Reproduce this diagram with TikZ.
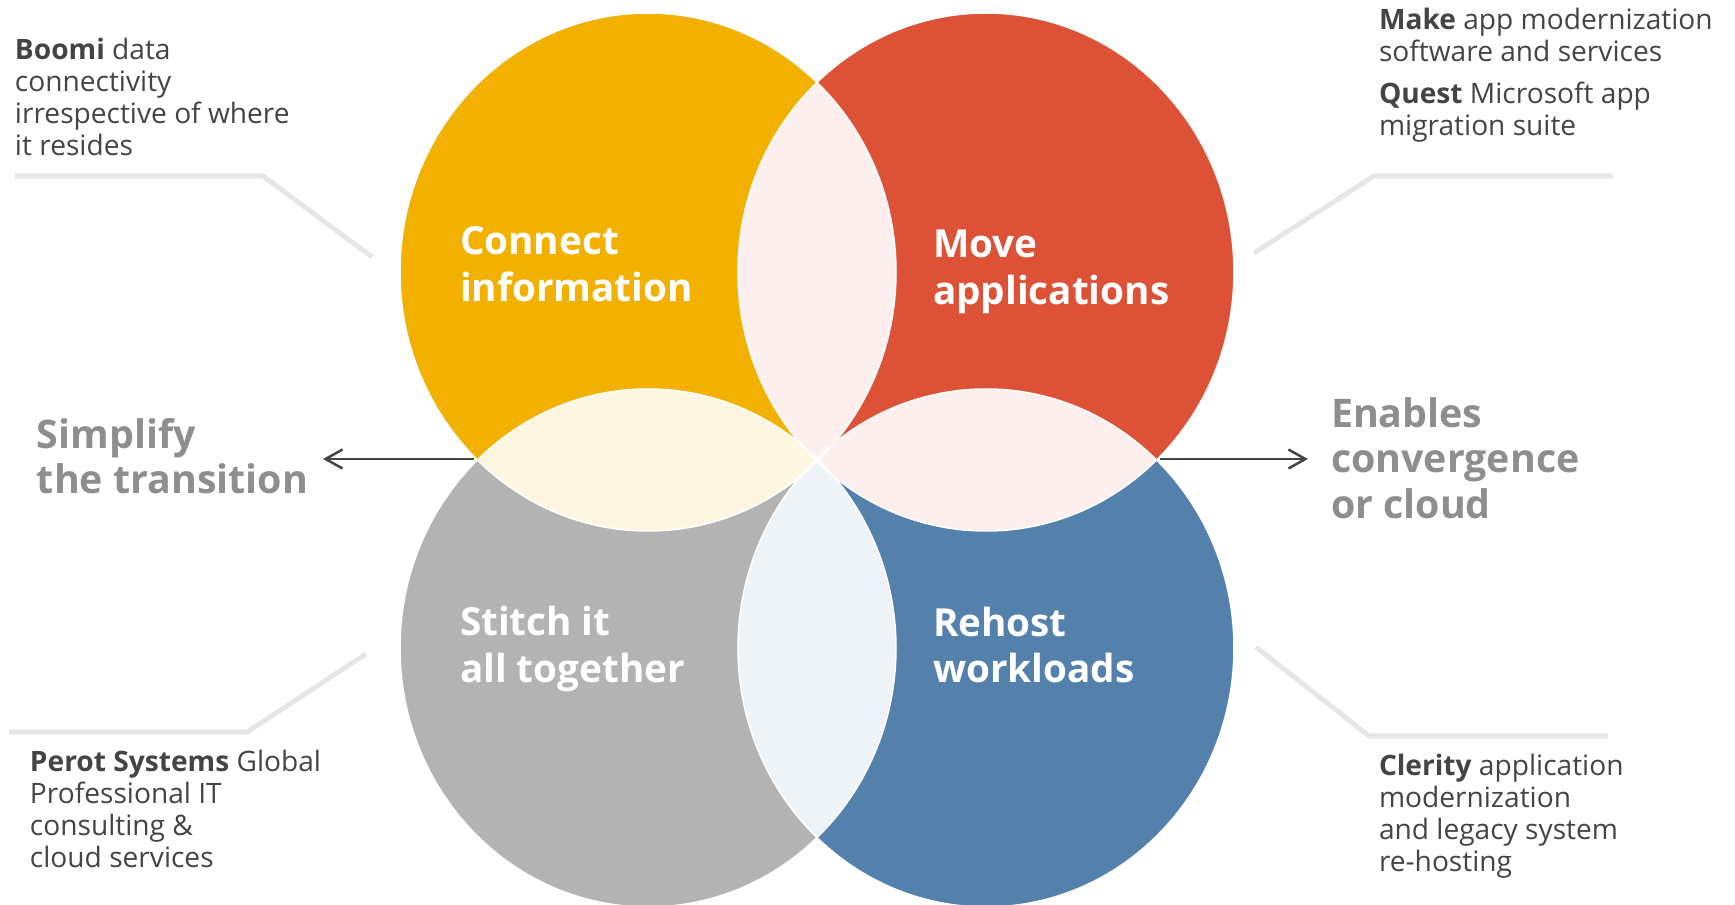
\documentclass[tikz,border=0pt]{standalone}
\usepackage{fontspec}
\setmainfont{Open Sans}
\usetikzlibrary{arrows.meta}
\definecolor{petalyellow}{HTML}{F2B100}
\definecolor{petalred}{HTML}{DD5236}
\definecolor{petalgray}{HTML}{B3B3B3}
\definecolor{petalblue}{HTML}{5381AC}
\definecolor{sidegray}{HTML}{8E8E8E}
\definecolor{notegray}{HTML}{444444}
\definecolor{leadgray}{HTML}{E6E6E6}

\begin{document}
\begin{tikzpicture}[x=0.1mm, y=0.1mm,
    every node/.style={inner sep=0pt, outer sep=0pt},
    petal/.style={x radius=24.8mm, y radius=25.9mm},
    title/.style={anchor=west, align=left, text=white,
      font=\fontsize{11}{13.2}\selectfont\bfseries},
    side/.style={anchor=west, align=left, text=sidegray,
      font=\fontsize{11.2}{13}\selectfont\bfseries},
    note/.style={anchor=west, align=left, text=notegray,
      font=\fontsize{8}{9.1}\selectfont},
    leader/.style={draw=leadgray, line width=0.5mm},
    arr/.style={-{Straight Barb[length=1.7mm, width=1.9mm]},
      draw=notegray, line width=0.25mm}]
  \useasboundingbox (0,0) rectangle (1735,905);

  % centres of the four petals
  \coordinate (cy) at (648,633);
  \coordinate (cr) at (986,633);
  \coordinate (cg) at (648,257);
  \coordinate (cb) at (986,257);

  \fill[petalyellow] (cy) ellipse [petal];
  \fill[petalred]    (cr) ellipse [petal];
  \fill[petalgray]   (cg) ellipse [petal];
  \fill[petalblue]   (cb) ellipse [petal];

  % overlaps
  \begin{scope}
    \clip (cy) ellipse [petal];
    \fill[petalred!9] (cr) ellipse [petal];      % top lens
  \end{scope}
  \begin{scope}
    \clip (cy) ellipse [petal];
    \fill[petalyellow!12] (cg) ellipse [petal];  % left lens
  \end{scope}
  \begin{scope}
    \clip (cr) ellipse [petal];
    \fill[petalred!9] (cb) ellipse [petal];      % right lens
  \end{scope}
  \begin{scope}
    \clip (cg) ellipse [petal];
    \fill[petalblue!10] (cb) ellipse [petal];    % bottom lens
  \end{scope}
  \foreach \c in {cy,cr,cg,cb}
    \draw[white, line width=0.15mm] (\c) ellipse [petal];

  % petal titles
  \node[title] (conn)   at (460,641) {Connect\\information};
  \node[title] (move)   at (933,633) {Move\\applications};
  \node[title] (stitch) at (460,256) {Stitch it\\all together};
  \node[title] (rehost) at (933,260) {Rehost\\workloads};

  % outcomes
  \node[side] (simp) at (37,449)   {Simplify\\the transition};
  \node[side] (enab) at (1331,447) {Enables\\convergence\\or cloud};
  \coordinate (yg) at (474,446);
  \coordinate (simpend) at (323,446);
  \coordinate (rb) at (1160,446);
  \coordinate (enabend) at (1308,446);
  \draw[arr] (yg) -- (simpend);
  \draw[arr] (rb) -- (enabend);

  % notes
  \node[note] (boomi) at (15,808)
    {\textbf{Boomi} data\\connectivity\\irrespective of where\\it resides};
  \node[note] (make) at (1379,830)
    {\textbf{Make} app modernization\\software and services\\[1mm]
     \textbf{Quest} Microsoft app\\migration suite};
  \node[note] (perot) at (30,96)
    {\textbf{Perot Systems} Global\\Professional IT\\consulting \&\\cloud services};
  \node[note] (clerity) at (1379,89)
    {\textbf{Clerity} application\\modernization\\and legacy system\\re-hosting};

  % leader lines
  \draw[leader] (15,729) -- (263,729) -- (372,648);
  \draw[leader] (1613,729) -- (1374,729) -- (1254,652);
  \draw[leader] (9,173) -- (247,173) -- (366,251);
  \draw[leader] (1608,169) -- (1369,169) -- (1256,258);
\end{tikzpicture}
\end{document}
